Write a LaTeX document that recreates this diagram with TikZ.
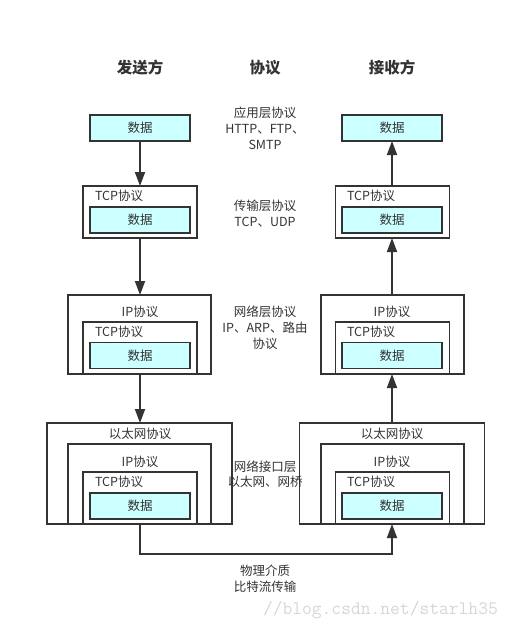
\documentclass[tikz,border=0pt]{standalone}
\usepackage{fontspec}
\setmainfont{Noto Sans CJK SC}
\usetikzlibrary{arrows.meta}
\definecolor{ink}{HTML}{333333}
\definecolor{datafill}{HTML}{CCFFFF}
\definecolor{wm}{HTML}{D6D6D6}
\begin{document}
\begin{tikzpicture}[x=1pt,y=-1pt,
  every node/.style={text=ink,inner sep=0pt,outer sep=0pt},
  frame/.style={draw=ink,line width=1.8pt,minimum width=#1},
  databox/.style={draw=ink,line width=1.8pt,fill=datafill,minimum width=100pt,minimum height=26pt,font=\fontsize{12.5}{15}\selectfont},
  lbl/.style={font=\fontsize{12.5}{15}\selectfont},
  mid/.style={align=center,font=\fontsize{12.5}{16}\selectfont},
  ttl/.style={font=\fontsize{15.5}{18}\selectfont\bfseries},
  arr/.style={draw=ink,line width=1.8pt,-{Triangle[width=10pt,length=14pt]}}
]
\useasboundingbox (0,0) rectangle (516,630);
% titles
\node[ttl] (t1) at (140,68) {发送方};
\node[ttl] (t2) at (265,68) {协议};
\node[ttl] (t3) at (392,68) {接收方};

% ---------- left column ----------
\node[databox] (L1data) at (140,128) {数据};

\node[frame=114pt,minimum height=52pt] (L2tcp) at (140,212) {};
\node[lbl,anchor=west] (L2tcpl) at (95,196) {TCP协议};
\node[databox] (L2data) at (140,220) {数据};

\node[frame=143pt,minimum height=79pt] (L3ip) at (139.5,334.5) {};
\node[lbl] (L3ipl) at (140,312) {IP协议};
\node[frame=114pt,minimum height=52pt] (L3tcp) at (140,348) {};
\node[lbl,anchor=west] (L3tcpl) at (95,332) {TCP协议};
\node[databox] (L3data) at (140,355.5) {数据};

\node[frame=185pt,minimum height=101pt] (L4eth) at (139.5,473.5) {};
\node[lbl] (L4ethl) at (140,434) {以太网协议};
\node[frame=143pt,minimum height=80pt] (L4ip) at (139.5,484) {};
\node[lbl] (L4ipl) at (140,462) {IP协议};
\node[frame=114pt,minimum height=52pt] (L4tcp) at (140,498) {};
\node[lbl,anchor=west] (L4tcpl) at (95,482) {TCP协议};
\node[databox] (L4data) at (140,506) {数据};

% ---------- right column ----------
\node[databox] (R1data) at (392,128) {数据};

\node[frame=114pt,minimum height=52pt] (R2tcp) at (392.5,212) {};
\node[lbl,anchor=west] (R2tcpl) at (347,196) {TCP协议};
\node[databox] (R2data) at (392,220) {数据};

\node[frame=143pt,minimum height=79pt] (R3ip) at (392.5,334.5) {};
\node[lbl] (R3ipl) at (392,312) {IP协议};
\node[frame=114pt,minimum height=52pt] (R3tcp) at (392.5,348) {};
\node[lbl,anchor=west] (R3tcpl) at (347,332) {TCP协议};
\node[databox] (R3data) at (392,355.5) {数据};

\node[frame=185pt,minimum height=101pt] (R4eth) at (392,473.5) {};
\node[lbl] (R4ethl) at (392,434) {以太网协议};
\node[frame=143pt,minimum height=80pt] (R4ip) at (392.5,484) {};
\node[lbl] (R4ipl) at (392,462) {IP协议};
\node[frame=114pt,minimum height=52pt] (R4tcp) at (392.5,498) {};
\node[lbl,anchor=west] (R4tcpl) at (347,482) {TCP协议};
\node[databox] (R4data) at (392,506) {数据};

% ---------- middle labels ----------
\node[mid] (m1) at (265,128) {应用层协议\\HTTP、FTP、\\SMTP};
\node[mid] (m2) at (265,214) {传输层协议\\TCP、UDP};
\node[mid] (m3) at (265,328) {网络层协议\\IP、ARP、路由\\协议};
\node[mid,font=\fontsize{12.5}{14.5}\selectfont] (m4) at (265,474) {网络接口层\\以太网、网桥};
\node[mid] (m5) at (265,579) {物理介质\\比特流传输};

% ---------- arrows ----------
\draw[arr] (L1data.south) -- (L1data.south |- L2tcp.north);
\draw[arr] (L2tcp.south -| L1data.south) -- (L1data.south |- L3ip.north);
\draw[arr] (L3tcp.south) -- (L3tcp.south |- L4eth.north);

\draw[arr] (R1data.south |- R2tcp.north) -- (R1data.south);
\draw[arr] (R1data.south |- R3ip.north) -- (R1data.south |- R2tcp.south);
\draw[arr] (R1data.south |- R4eth.north) -- (R1data.south |- R3tcp.south);

\coordinate (bl) at (140,554);
\draw[arr] (L4tcp.south -| L4data.south) -- (bl) -| (R4data.south |- R4tcp.south);

% watermark
\node[anchor=base west,text=wm,font=\ttfamily\fontsize{19}{19}\selectfont] (wmk) at (263,614) {//blog.csdn.net/starlh35};
\end{tikzpicture}
\end{document}
